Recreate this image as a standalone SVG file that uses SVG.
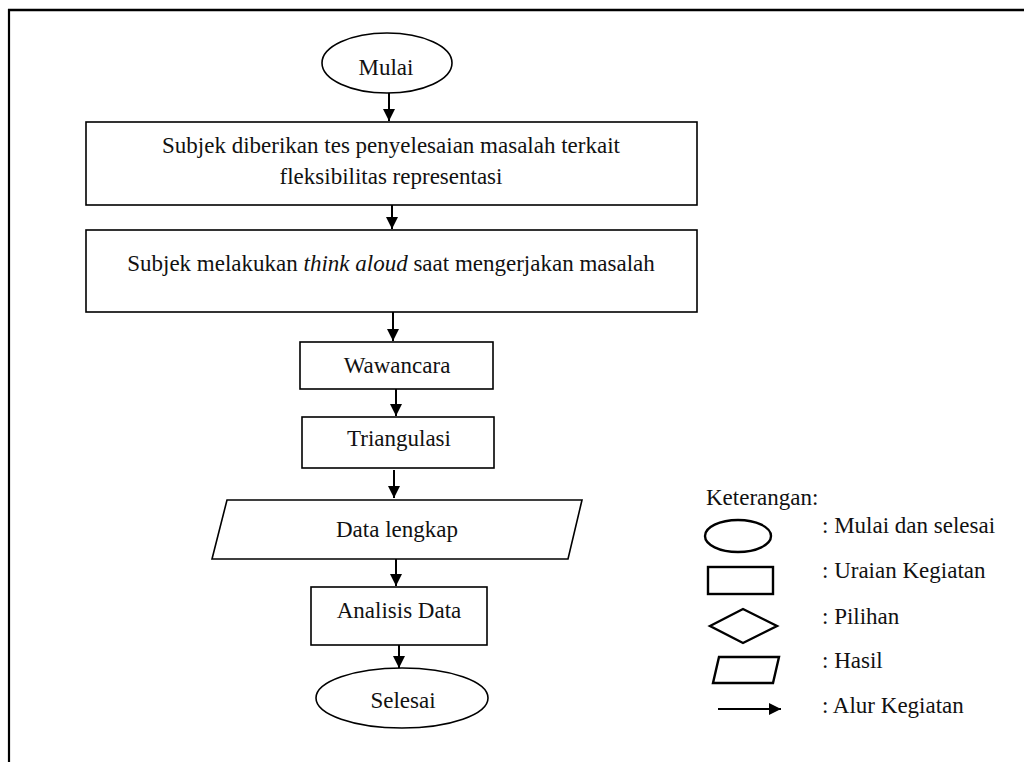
<svg xmlns="http://www.w3.org/2000/svg" width="1024" height="762" viewBox="0 0 1024 762">
<defs>
<marker id="ah" viewBox="0 0 10 10" refX="10" refY="5" markerWidth="6" markerHeight="6" orient="auto" markerUnits="strokeWidth">
<path d="M0,0 L10,5 L0,10 Z" fill="#000"/>
</marker>
<style>
.s{fill:#fff;stroke:#000;stroke-width:1.6}
.l{fill:#fff;stroke:#000;stroke-width:2.4}
.t{font-family:"Liberation Serif","Times New Roman",serif;font-size:23px;fill:#111}
.m{text-anchor:middle}
.c{stroke:#000;stroke-width:2;fill:none}
</style>
</defs>
<rect width="1024" height="762" fill="#fff"/>
<g id="frame">
<line x1="8" y1="10" x2="1024" y2="10" stroke="#000" stroke-width="2.6"/>
<line x1="9" y1="9" x2="9" y2="762" stroke="#000" stroke-width="2.2"/>
</g>
<g id="mulai">
<ellipse class="s" cx="387" cy="63" rx="65" ry="30"/>
<text class="t m" x="386" y="75">Mulai</text>
</g>
<g id="tes">
<rect class="s" x="86" y="122" width="611" height="83"/>
<text class="t m" x="391" y="153">Subjek diberikan tes penyelesaian masalah terkait</text>
<text class="t m" x="391" y="184">fleksibilitas representasi</text>
</g>
<g id="thinkaloud">
<rect class="s" x="86" y="230" width="611" height="82"/>
<text class="t m" x="391" y="271">Subjek melakukan <tspan font-style="italic">think aloud</tspan> saat mengerjakan masalah</text>
</g>
<g id="wawancara">
<rect class="s" x="300" y="342" width="193" height="47"/>
<text class="t m" x="397" y="373">Wawancara</text>
</g>
<g id="triangulasi">
<rect class="s" x="302" y="417" width="192" height="51"/>
<text class="t m" x="399" y="446">Triangulasi</text>
</g>
<g id="datalengkap">
<polygon class="s" points="227,500 582,500 568,559 212,559"/>
<text class="t m" x="397" y="537">Data lengkap</text>
</g>
<g id="analisis">
<rect class="s" x="311" y="587" width="176" height="58"/>
<text class="t m" x="399" y="618">Analisis Data</text>
</g>
<g id="selesai">
<ellipse class="s" cx="402" cy="698" rx="86" ry="30"/>
<text class="t m" x="403" y="708">Selesai</text>
</g>
<g id="connectors">
<line class="c" x1="389" y1="93" x2="389" y2="121" marker-end="url(#ah)"/>
<line class="c" x1="392" y1="205" x2="392" y2="229" marker-end="url(#ah)"/>
<line class="c" x1="393" y1="312" x2="393" y2="341" marker-end="url(#ah)"/>
<line class="c" x1="396" y1="389" x2="396" y2="416" marker-end="url(#ah)"/>
<line class="c" x1="394" y1="470" x2="394" y2="498" marker-end="url(#ah)"/>
<line class="c" x1="396" y1="559" x2="396" y2="586" marker-end="url(#ah)"/>
<line class="c" x1="399" y1="645" x2="399" y2="668" marker-end="url(#ah)"/>
</g>
<g id="legend">
<text class="t" x="706" y="505">Keterangan:</text>
<ellipse class="l" cx="738" cy="536" rx="33" ry="16"/>
<text class="t" x="822" y="533">: Mulai dan selesai</text>
<rect class="l" x="708" y="567" width="65" height="27"/>
<text class="t" x="822" y="578">: Uraian Kegiatan</text>
<polygon class="l" points="710,626 743,609 777,626 743,643"/>
<text class="t" x="822" y="624">: Pilihan</text>
<polygon class="l" points="719,657 779,657 773,683 713,683"/>
<text class="t" x="822" y="668">: Hasil</text>
<line class="c" x1="718" y1="709" x2="781" y2="709" marker-end="url(#ah)"/>
<text class="t" x="822" y="713">: Alur Kegiatan</text>
</g>
</svg>
